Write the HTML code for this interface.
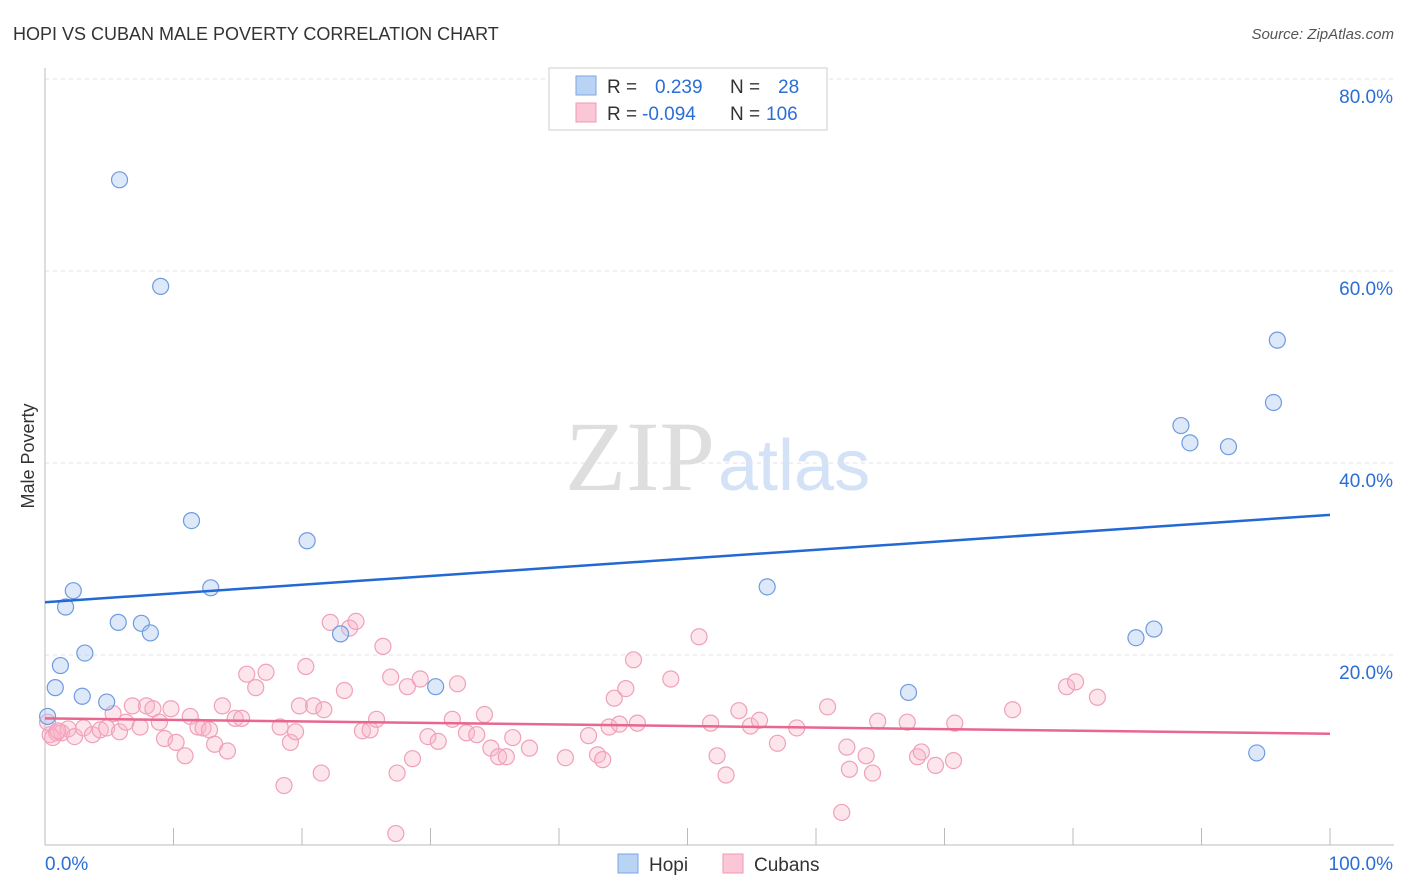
<!DOCTYPE html>
<html><head><meta charset="utf-8"><style>
body{margin:0;background:#fff;font-family:"Liberation Sans",sans-serif}
svg{display:block}
</style></head><body>
<svg width="1406" height="892" xmlns="http://www.w3.org/2000/svg" font-family="Liberation Sans, sans-serif">
<text x="13" y="40" font-size="18" fill="#333">HOPI VS CUBAN MALE POVERTY CORRELATION CHART</text>
<text x="1394" y="39" font-size="15" fill="#555" text-anchor="end" font-style="italic">Source: ZipAtlas.com</text>
<g>
<text x="715" y="490" font-size="100" fill="#dedede" text-anchor="end" font-family="Liberation Serif, serif">ZIP</text>
<text x="718" y="490" font-size="72" fill="#d3e2f6">atlas</text>
</g>
<g id="grid"></g>
<g id="axes"></g>
<g id="marks"></g>
<text transform="translate(34,456) rotate(-90)" font-size="18" fill="#333" text-anchor="middle">Male Poverty</text>
<g>
<rect x="549" y="68" width="278" height="62" fill="#fff" stroke="#ccc"/>
<rect x="576" y="76" width="20" height="19" fill="#b9d3f5" stroke="#7ea6e0"/>
<rect x="576" y="103" width="20" height="19" fill="#fbc6d6" stroke="#ef9ab5"/>
<text x="607" y="93" font-size="19" fill="#333">R =</text>
<text x="655" y="93" font-size="19" fill="#2b6ed6">0.239</text>
<text x="730" y="93" font-size="19" fill="#333">N =</text>
<text x="778" y="93" font-size="19" fill="#2b6ed6">28</text>
<text x="607" y="120" font-size="19" fill="#333">R =</text>
<text x="642" y="120" font-size="19" fill="#2b6ed6">-0.094</text>
<text x="730" y="120" font-size="19" fill="#333">N =</text>
<text x="766" y="120" font-size="19" fill="#2b6ed6">106</text>
</g>
<g>
<rect x="618" y="854" width="20" height="19" fill="#b9d3f5" stroke="#7ea6e0"/>
<text x="649" y="871" font-size="19" fill="#333">Hopi</text>
<rect x="723" y="854" width="20" height="19" fill="#fbc6d6" stroke="#ef9ab5"/>
<text x="754" y="871" font-size="19" fill="#333">Cubans</text>
</g>
</svg>
<script>
const yTicks=[20,40,60,80];
const yTickLabels=["20.0%","40.0%","60.0%","80.0%"];
const xTicks=[0,10,20,30,40,50,60,70,80,90,100];
const hopiX=[5.8,9.0,11.4,20.4,2.2,1.6,12.9,5.7,7.5,8.2,3.1,1.2,0.8,2.9,4.8,0.2,23.0,30.4,56.2,67.2,84.9,86.3,88.4,89.1,92.1,95.6,95.9,94.3];
const hopiY=[69.5,58.4,34.0,31.9,26.7,25.0,27.0,23.4,23.3,22.3,20.2,18.9,16.6,15.7,15.1,13.6,22.2,16.7,27.1,16.1,21.8,22.7,43.9,42.1,41.7,46.3,52.8,9.8];
const cubX=[0.4,0.9,0.2,1.3,1.8,2.3,3.0,3.7,4.3,4.8,5.3,5.8,6.3,6.8,7.4,7.9,8.4,8.9,9.3,9.8,10.2,10.9,11.3,11.9,12.3,12.8,13.2,13.8,14.2,14.8,15.3,15.7,16.4,17.2,18.6,18.3,19.1,19.5,19.8,20.3,20.9,21.5,21.7,22.2,23.3,23.7,24.2,24.7,25.3,25.8,26.3,26.9,27.4,28.2,28.6,29.2,29.8,30.6,31.7,32.1,32.8,33.6,34.2,34.7,35.3,35.9,36.4,37.7,40.5,42.3,43.0,43.4,43.9,44.3,44.7,45.2,45.8,46.1,48.7,50.9,51.8,52.3,53.0,54.0,54.9,55.6,57.0,58.5,60.9,62.4,62.6,63.9,64.4,64.8,67.1,67.9,68.2,69.3,70.7,70.8,75.3,79.5,80.2,81.9,62.0,27.3,0.6,1.0];
const cubY=[11.7,11.9,13.0,11.9,12.3,11.5,12.4,11.7,12.2,12.4,13.9,12.0,13.0,14.7,12.5,14.7,14.4,13.0,11.3,14.4,10.9,9.5,13.6,12.5,12.4,12.2,10.7,14.7,10.0,13.4,13.4,18.0,16.6,18.2,6.4,12.5,10.9,12.0,14.7,18.8,14.7,7.7,14.3,23.4,16.3,22.8,23.5,12.1,12.2,13.3,20.9,17.7,7.7,16.7,9.2,17.5,11.5,11.0,13.3,17.0,11.9,11.7,13.8,10.3,9.4,9.4,11.4,10.3,9.3,11.6,9.6,9.1,12.5,15.5,12.8,16.5,19.5,12.9,17.5,21.9,12.9,9.5,7.5,14.2,12.6,13.2,10.8,12.4,14.6,10.4,8.1,9.5,7.7,13.1,13.0,9.4,9.9,8.5,9.0,12.9,14.3,16.7,17.2,15.6,3.6,1.4,11.4,12.1];
const hopiTrend=[25.5,34.6];
const cubTrend=[13.4,11.8];
const NS="http://www.w3.org/2000/svg";
const X=v=>45+v*12.85, Y=v=>847-v*9.6;
function mk(t,a,p){const e=document.createElementNS(NS,t);for(const k in a)e.setAttribute(k,a[k]);p.appendChild(e);return e;}
const grid=document.getElementById('grid'),axes=document.getElementById('axes'),marks=document.getElementById('marks');
yTicks.forEach((v,i)=>{
 const l=mk('line',{x1:45,x2:1394,y1:Y(v),y2:Y(v),stroke:'#e2e2e2','stroke-dasharray':'4,4'},grid);
 
 
 const t=mk('text',{x:1393,y:Y(v)+24,'font-size':19,fill:'#2b6ed6','text-anchor':'end'},grid);
 t.textContent=yTickLabels[i];
 
 
});
const ax=mk('line',{x1:45,x2:1394,y1:845,y2:845,stroke:'#bbb'},axes);


const ay=mk('line',{x1:45,x2:45,y1:68,y2:845,stroke:'#bbb'},axes);


xTicks.forEach(v=>{
 const t=mk('line',{x1:X(v),x2:X(v),y1:828,y2:845,stroke:'#bbb'},axes);
 
 
});
[["0.0%",45,'start'],["100.0%",1393,'end']].forEach(a=>{
 const t=mk('text',{x:a[1],y:870,'font-size':19,fill:'#2b6ed6','text-anchor':a[2]},axes);
 t.textContent=a[0];
 
 
});
cubX.forEach((v,i)=>{
 const c=mk('circle',{cx:X(v),cy:Y(cubY[i]),r:8,fill:'rgba(248,180,200,0.35)',stroke:'#f0a0ba','stroke-width':1.2},marks);
 
 
});
hopiX.forEach((v,i)=>{
 const c=mk('circle',{cx:X(v),cy:Y(hopiY[i]),r:8,fill:'rgba(170,200,240,0.4)',stroke:'#6e9be0','stroke-width':1.2},marks);
 
 
});
const t1=mk('line',{x1:X(0),x2:X(100),y1:Y(hopiTrend[0]),y2:Y(hopiTrend[1]),stroke:'#2269d3','stroke-width':2.5},marks);


const t2=mk('line',{x1:X(0),x2:X(100),y1:Y(cubTrend[0]),y2:Y(cubTrend[1]),stroke:'#e8668f','stroke-width':2.5},marks);


</script>
</body></html>
